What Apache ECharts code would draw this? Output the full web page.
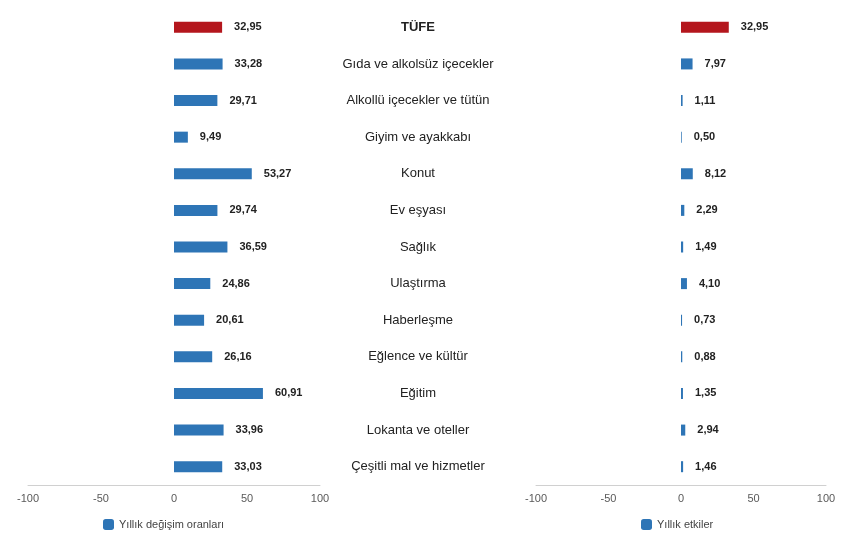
<!DOCTYPE html>
<html lang="tr">
<head>
<meta charset="UTF-8">
<title>TÜFE</title>
<script src="https://cdn.jsdelivr.net/npm/echarts@6/dist/echarts.min.js"></script>
<style>html,body{margin:0;background:#fff}#main{width:850px;height:546px}</style>
</head>
<body>
<div id="main"></div>
<script>
var categories = ['TÜFE', 'Gıda ve alkolsüz içecekler', 'Alkollü içecekler ve tütün', 'Giyim ve ayakkabı',
    'Konut', 'Ev eşyası', 'Sağlık', 'Ulaştırma', 'Haberleşme', 'Eğlence ve kültür', 'Eğitim',
    'Lokanta ve oteller', 'Çeşitli mal ve hizmetler'];
var yillikDegisim = [32.95, 33.28, 29.71, 9.49, 53.27, 29.74, 36.59, 24.86, 20.61, 26.16, 60.91, 33.96, 33.03];
var yillikEtki = [32.95, 7.97, 1.11, 0.50, 8.12, 2.29, 1.49, 4.10, 0.73, 0.88, 1.35, 2.94, 1.46];
var xTicks = [-100, -50, 0, 50, 100];

var blue = '#2e75b6', red = '#b4161d';
var myChart = echarts.init(document.getElementById('main'));

function barData(arr) {
    return arr.map(function (v, i) {
        return i === 0 ? {value: v, itemStyle: {color: red}} : v;
    });
}
var label = {
    show: true, position: 'right', distance: 12, color: '#222', fontSize: 11, fontWeight: 'bold',
    fontFamily: 'Liberation Sans',
    formatter: function (p) { return p.value.toFixed(2).replace('.', ','); }
};
function xAxis(idx) {
    return {
        gridIndex: idx, type: 'value', min: xTicks[0], max: xTicks[xTicks.length - 1], interval: 50,
        splitLine: {show: false}, axisTick: {show: false},
        axisLine: {show: true, onZero: false, lineStyle: {color: '#d0d0d0'}},
        axisLabel: {color: '#595959', fontSize: 11, fontFamily: 'Liberation Sans'}
    };
}

myChart.setOption({
    animation: false,
    grid: [
        {left: 28, width: 292, top: 9, height: 476},
        {left: 536, width: 290, top: 9, height: 476}
    ],
    legend: [
        {data: ['Yıllık değişim oranları'], left: 98, top: 514, itemWidth: 11, itemHeight: 11,
         textStyle: {color: '#444', fontSize: 11, fontFamily: 'Liberation Sans'}},
        {data: ['Yıllık etkiler'], left: 636, top: 514, itemWidth: 11, itemHeight: 11,
         textStyle: {color: '#444', fontSize: 11, fontFamily: 'Liberation Sans'}}
    ],
    xAxis: [xAxis(0), xAxis(1)],
    yAxis: [
        {gridIndex: 0, type: 'category', data: categories, inverse: true, show: false},
        {gridIndex: 1, type: 'category', data: categories, inverse: true, position: 'left',
         axisLine: {show: false}, axisTick: {show: false},
         axisLabel: {
             align: 'center', margin: 118, fontSize: 13, color: '#222', fontFamily: 'Liberation Sans',
             formatter: function (v, i) { return i === 0 ? '{b|' + v + '}' : v; },
             rich: {b: {fontWeight: 'bold', fontSize: 13, color: '#222'}}
         }}
    ],
    series: [
        {name: 'Yıllık değişim oranları', type: 'bar', xAxisIndex: 0, yAxisIndex: 0, barWidth: 11,
         itemStyle: {color: blue}, label: label, data: barData(yillikDegisim)},
        {name: 'Yıllık etkiler', type: 'bar', xAxisIndex: 1, yAxisIndex: 1, barWidth: 11,
         itemStyle: {color: blue}, label: label, data: barData(yillikEtki)}
    ]
});
</script>
</body>
</html>
